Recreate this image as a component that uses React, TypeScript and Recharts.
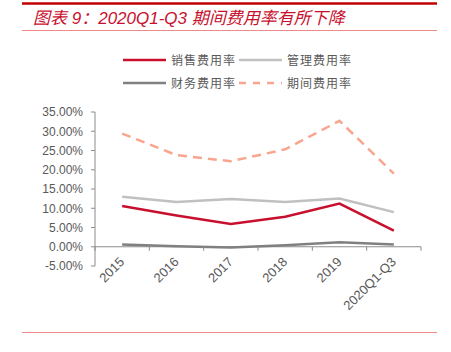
import React from 'react';
import { ComposedChart, Line, XAxis, YAxis, ReferenceLine } from 'recharts';

const categories = ['2015', '2016', '2017', '2018', '2019', '2020Q1-Q3'];
const salesRate = [10.6, 8.1, 5.9, 7.8, 11.2, 4.2];
const adminRate = [13.0, 11.6, 12.4, 11.6, 12.5, 9.0];
const financeRate = [0.6, 0.1, -0.2, 0.4, 1.2, 0.6];
const periodRate = [29.4, 23.8, 22.2, 25.3, 32.7, 19.0];
const yTicks = [-5, 0, 5, 10, 15, 20, 25, 30, 35];
const titleText = '图表 9：2020Q1-Q3 期间费用率有所下降';

const seriesNames = ['销售费用率', '管理费用率', '财务费用率', '期间费用率'];
const seriesKeys = ['sales', 'admin', 'finance', 'period'];
const seriesColors = ['#c8102e', '#c0c0c0', '#808080', '#f9a58e'];
const seriesDash = [undefined, undefined, undefined, '9 6'];

const data = categories.map((c, i) => ({
  name: c,
  sales: salesRate[i],
  admin: adminRate[i],
  finance: financeRate[i],
  period: periodRate[i],
}));

const W = 451;
const H = 352;
const X_AXIS_H = 30;
const M = { top: 112, right: 30, bottom: 86 - X_AXIS_H, left: 0 };
const Y_AXIS_W = 95;
const plotW = W - M.right - M.left - Y_AXIS_W;
const plotH = H - M.top - M.bottom - X_AXIS_H;
const yMin = -5;
const yMax = 35;
const zeroY = M.top + ((yMax - 0) / (yMax - yMin)) * plotH;
const bandW = plotW / categories.length;
const axisColor = '#8c8c8c';
const textColor = '#595959';
const font = '"Liberation Sans", Arial, sans-serif';

const XTick = (props: any) => {
  const { x, index, payload } = props;
  const half = bandW / 2;
  return (
    <g>
      <line x1={x - half} x2={x - half} y1={zeroY} y2={zeroY + 4} stroke={axisColor} strokeWidth={1} />
      {index === categories.length - 1 && (
        <line x1={x + half} x2={x + half} y1={zeroY} y2={zeroY + 4} stroke={axisColor} strokeWidth={1} />
      )}
      <text
        transform={`translate(${x + 3},${zeroY + 16}) rotate(-45)`}
        textAnchor="end"
        fill={textColor}
        fontSize={13}
        fontFamily={font}
        style={{ fontFamily: font }}
      >
        {payload.value}
      </text>
    </g>
  );
};

const legendPos = [
  { x: 123, y: 60 },
  { x: 239, y: 60 },
  { x: 123, y: 83 },
  { x: 239, y: 83 },
];

export default function App() {
  return (
    <div style={{ position: 'absolute', left: 0, top: 0, width: W, height: H, background: '#fff' }}>
      <svg width={W} height={H} style={{ position: 'absolute', left: 0, top: 0 }}>
        <line x1={22} x2={437} y1={3.5} y2={3.5} stroke="#c00000" strokeWidth={2.5} />
        <text
          x={33}
          y={24}
          fill="#c8102e"
          fontSize={17}
          fontStyle="italic"
          fontFamily={'"Liberation Sans", Arial, "Noto Sans CJK SC", sans-serif'}
        >
          {titleText}
        </text>
        <line x1={22} x2={437} y1={30.5} y2={30.5} stroke="#ef8a8a" strokeWidth={1} />
        <line x1={22} x2={437} y1={332.5} y2={332.5} stroke="#ef8a8a" strokeWidth={1} />
        {seriesNames.map((n, i) => (
          <g key={n}>
            <line
              x1={legendPos[i].x}
              x2={legendPos[i].x + 43}
              y1={legendPos[i].y}
              y2={legendPos[i].y}
              stroke={seriesColors[i]}
              strokeWidth={2.5}
              strokeDasharray={seriesDash[i] ? '7 7' : undefined}
            />
            <text
              x={legendPos[i].x + 48}
              y={legendPos[i].y + 4.5}
              fill={textColor}
              fontSize={12}
              letterSpacing={1}
              fontFamily={'"Noto Sans CJK SC", sans-serif'}
            >
              {n}
            </text>
          </g>
        ))}
      </svg>
      <div style={{ position: 'absolute', left: 0, top: 0 }}>
        <ComposedChart width={W} height={H} data={data} margin={M}>
          <XAxis
            dataKey="name"
            height={X_AXIS_H}
            padding={{ left: bandW / 2, right: bandW / 2 }}
            axisLine={false}
            tickLine={false}
            tickSize={0}
            tickMargin={0}
            interval={0}
            tick={<XTick />}
          />
          <YAxis
            width={Y_AXIS_W}
            domain={[yMin, yMax]}
            allowDataOverflow={true}
            ticks={yTicks}
            interval={0}
            tickFormatter={(v: number) => v.toFixed(2) + '%'}
            axisLine={{ stroke: axisColor }}
            tickLine={{ stroke: axisColor }}
            tickSize={4}
            tickMargin={8}
            tick={{ fill: textColor, fontSize: 12, fontFamily: font }}
          />
          <ReferenceLine y={0} stroke={axisColor} strokeWidth={1} />
          {seriesKeys.map((k, i) => (
            <Line
              key={k}
              type="linear"
              dataKey={k}
              name={seriesNames[i]}
              stroke={seriesColors[i]}
              strokeWidth={2.5}
              strokeDasharray={seriesDash[i]}
              dot={false}
              activeDot={false}
              isAnimationActive={false}
            />
          ))}
        </ComposedChart>
      </div>
    </div>
  );
}
